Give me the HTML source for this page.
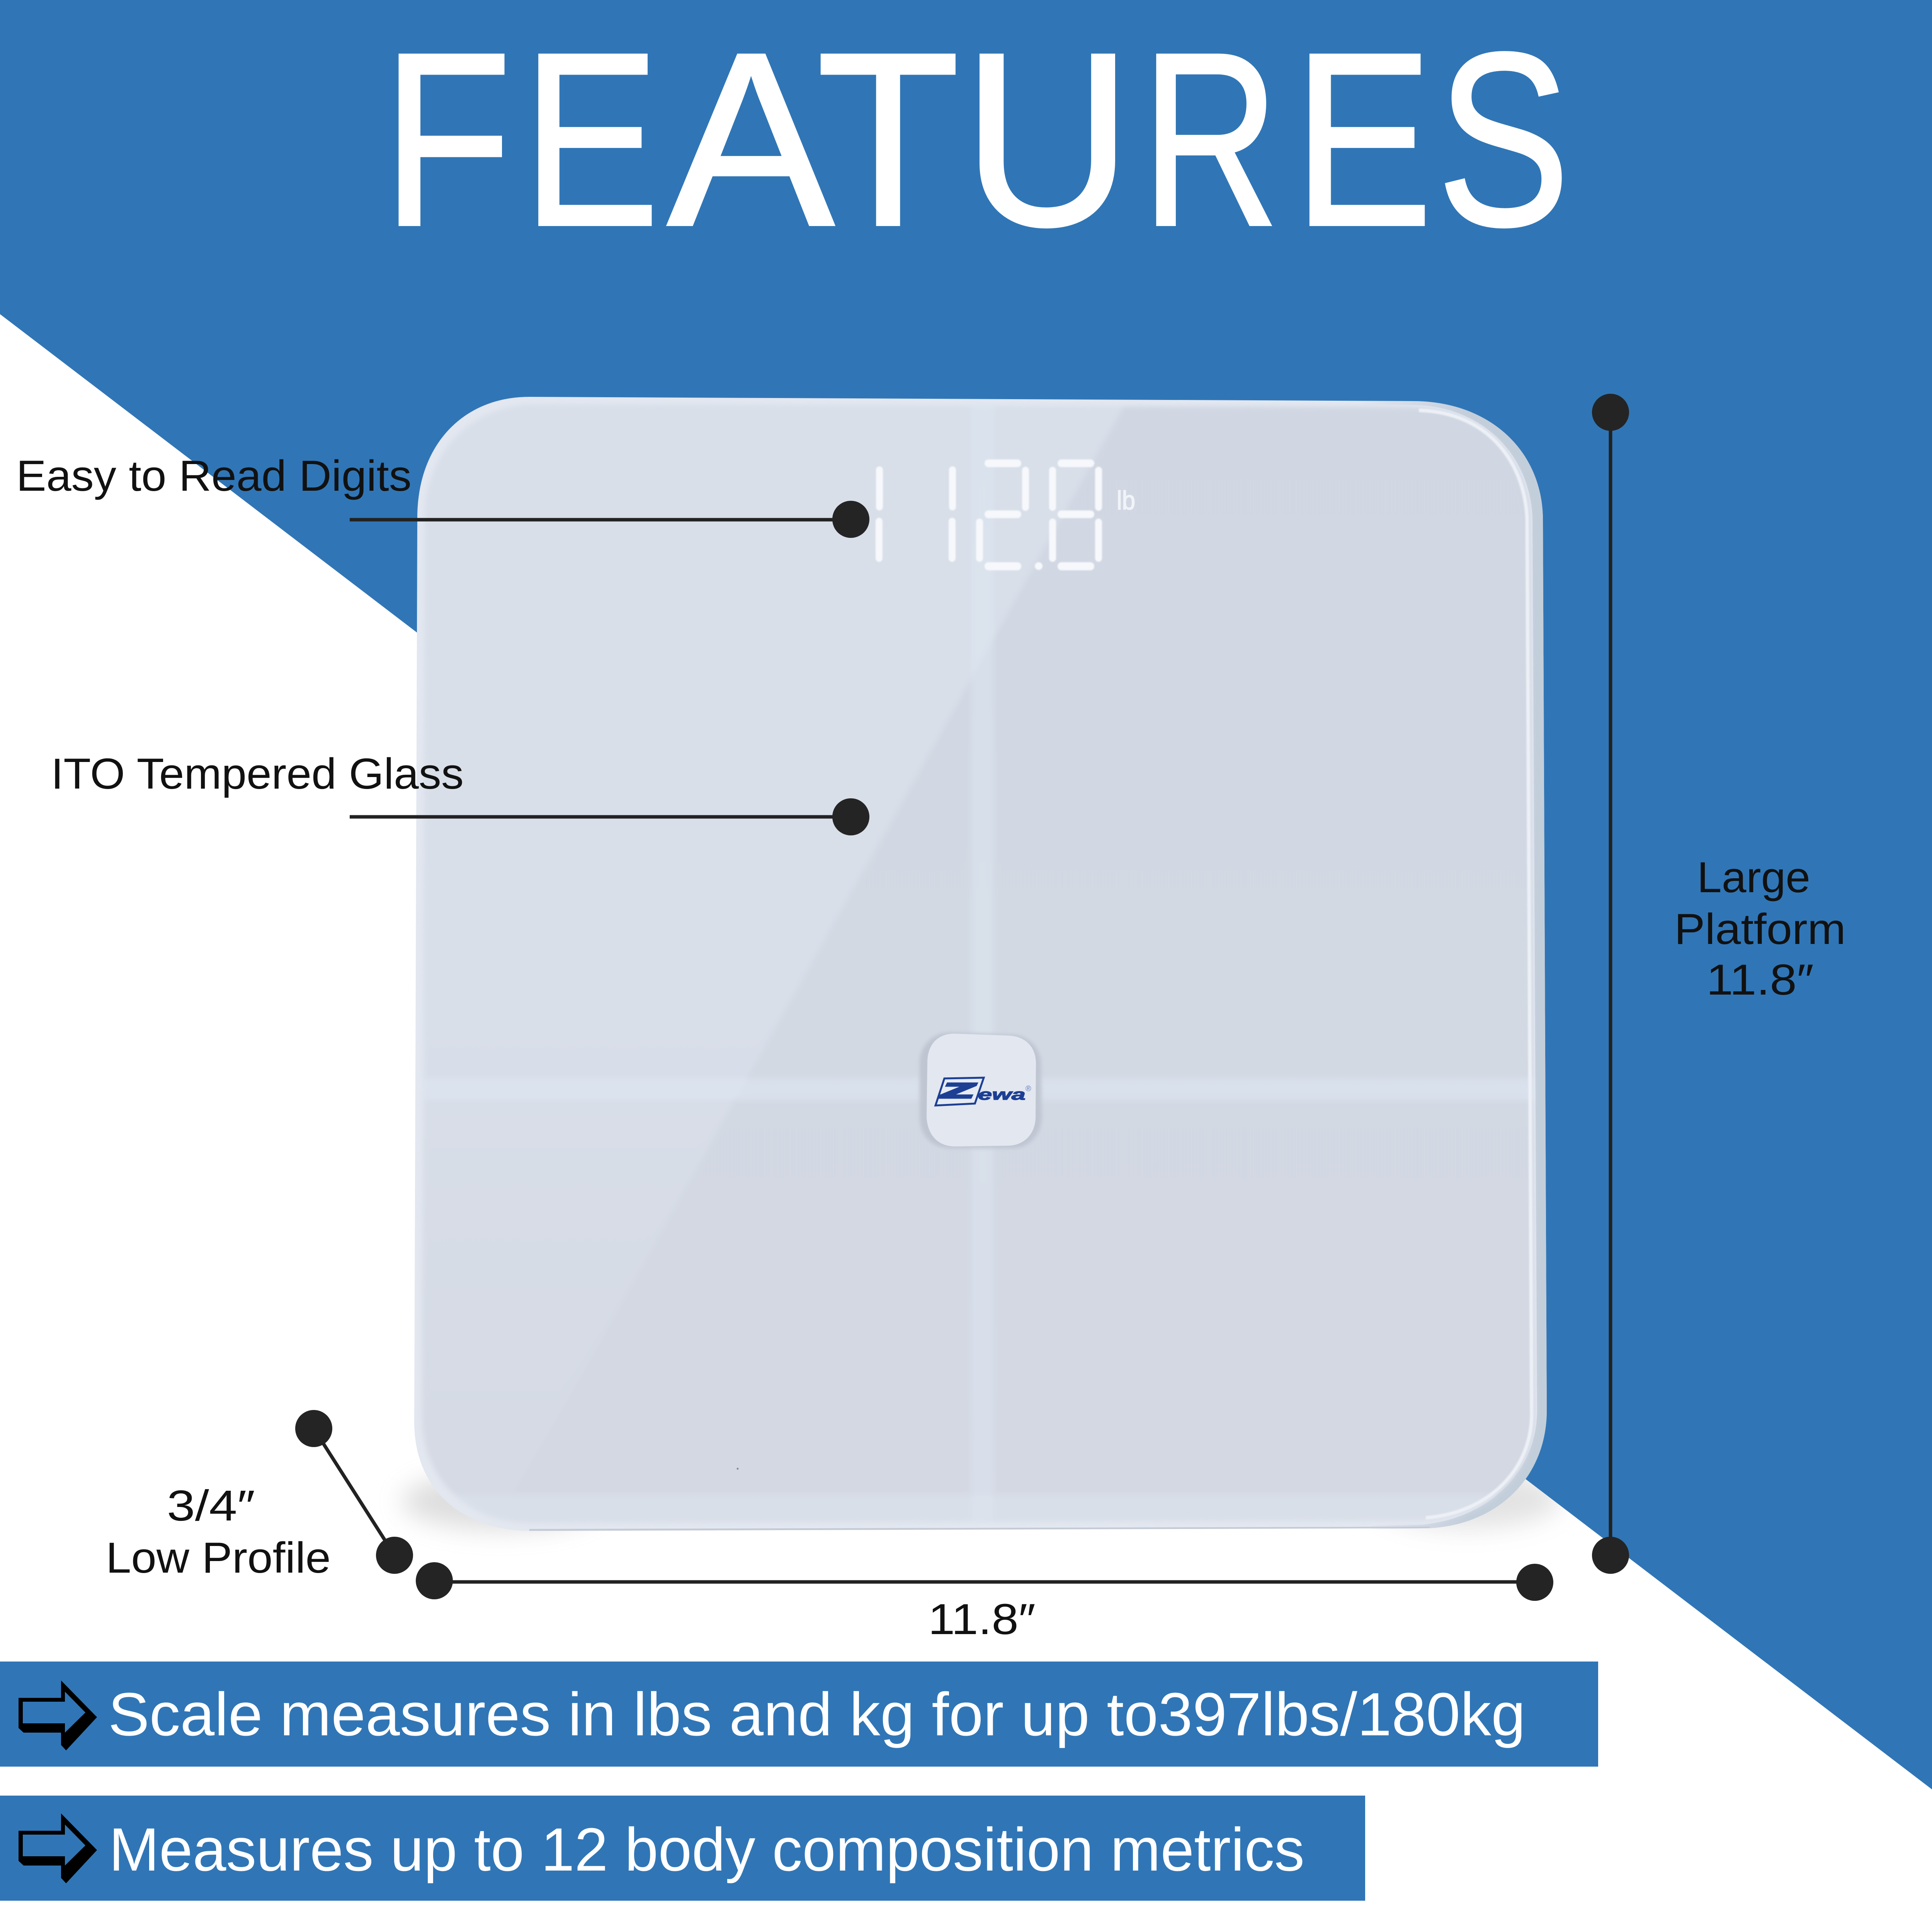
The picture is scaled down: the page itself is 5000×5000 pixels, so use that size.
<!DOCTYPE html>
<html lang="en"><head><meta charset="utf-8"><title>Features</title>
<style>html,body{margin:0;padding:0;background:#fff}svg{display:block}text{font-family:"Liberation Sans",sans-serif}</style>
</head><body>
<svg xmlns="http://www.w3.org/2000/svg" width="5000" height="5000" viewBox="0 0 5000 5000">
<defs>
<filter id="b60" x="-60%" y="-100%" width="220%" height="300%"><feGaussianBlur stdDeviation="32"/></filter>
<filter id="b6" x="-50%" y="-50%" width="200%" height="200%"><feGaussianBlur stdDeviation="5"/></filter>
<filter id="b2" x="-50%" y="-50%" width="200%" height="200%"><feGaussianBlur stdDeviation="1.5"/></filter>
<filter id="f8" x="1000" y="950" width="3100" height="3100" filterUnits="userSpaceOnUse"><feGaussianBlur stdDeviation="7"/></filter>
<linearGradient id="faceR" x1="0" y1="0" x2="0" y2="1"><stop offset="0" stop-color="#d0d7e2"/><stop offset=".5" stop-color="#d2d9e3"/><stop offset="1" stop-color="#d4d8e2"/></linearGradient>
<linearGradient id="faceL" x1="0" y1="0" x2="0" y2="1"><stop offset="0" stop-color="#d8dfe9"/><stop offset=".55" stop-color="#d9dfe9"/><stop offset=".8" stop-color="#d6dbe5"/><stop offset="1" stop-color="#d4d9e3"/></linearGradient>
<linearGradient id="rimR" gradientUnits="userSpaceOnUse" x1="3520" y1="0" x2="3800" y2="0"><stop offset="0" stop-color="#c3cedb" stop-opacity="0"/><stop offset="1" stop-color="#c3cedb"/></linearGradient>
<clipPath id="faceClip"><path d="M1390,1047 L3650,1054 C3840,1056 3952,1180 3960,1340 L3972,3660 C3972,3810 3860,3925 3690,3935 L1380,3942 C1210,3942 1095,3830 1092,3670 L1100,1340 C1100,1170 1220,1047 1390,1047 Z"/></clipPath>
<clipPath id="whiteArea"><polygon points="0,813 5000,4631 5000,5000 0,5000"/></clipPath>
</defs>
<rect width="5000" height="5000" fill="#fff"/>
<polygon points="0,0 5000,0 5000,4631 0,813" fill="#3076b6"/>

<!-- shadow -->
<g clip-path="url(#whiteArea)">
  <ellipse cx="1300" cy="3885" rx="260" ry="75" fill="#a8a8a8" opacity=".38" filter="url(#b60)"/>
  <ellipse cx="3800" cy="3880" rx="240" ry="75" fill="#a8a8a8" opacity=".32" filter="url(#b60)"/>
</g>

<!-- scale body -->
<path d="M1370,1027 L3660,1038 C3860,1040 3990,1170 3993,1340 L4003,3650 C4003,3820 3880,3945 3700,3955 L1370,3962 C1190,3960 1072,3850 1072,3680 L1080,1340 C1080,1150 1200,1027 1370,1027 Z" fill="#e2e7f0"/>
<path d="M3660,1038 C3860,1040 3990,1170 3993,1340 L4003,3650 C4003,3820 3880,3945 3700,3955 L3550,3958 L3550,3948 L3680,3946 C3850,3930 3978,3810 3978,3650 L3966,1340 C3960,1180 3840,1052 3660,1048 L3520,1046 L3520,1037 Z" fill="url(#rimR)"/>
<path d="M1370,3962 L3700,3955 L3700,3951 L1370,3957 Z" fill="#c4cbd4"/>
<g filter="url(#f8)">
  <g clip-path="url(#faceClip)">
    <rect x="1050" y="1000" width="3000" height="3000" fill="url(#faceR)"/>
    <polygon points="1050,1000 2938,1000 1260,3990 1050,3990" fill="url(#faceL)"/>
    <rect x="2514" y="1000" width="57" height="3000" fill="#dde6f1" opacity=".55"/>
    <rect x="1050" y="2790" width="3000" height="58" fill="#dde6f1" opacity=".6"/>
    <rect x="1050" y="3868" width="3000" height="100" fill="#dde5ee" opacity=".5"/>
  </g>
</g>
<path d="M3672,1062 C3842,1066 3944,1186 3952,1340 L3964,3660 C3964,3800 3856,3915 3690,3928" fill="none" stroke="#edf1f7" stroke-width="9" filter="url(#b2)"/>
<circle cx="1909" cy="3801" r="2.5" fill="#888"/>

<!-- LED digits -->
<g fill="#f6f8fb" filter="url(#b2)">
  <rect x="2267" y="1207" width="18" height="114" rx="9"/>
  <rect x="2266" y="1340" width="18" height="114" rx="9"/>
  <rect x="2456" y="1207" width="18" height="114" rx="9"/>
  <rect x="2455" y="1340" width="18" height="114" rx="9"/>
  <rect x="2548" y="1189" width="95" height="20" rx="10"/>
  <rect x="2645" y="1208" width="18" height="114" rx="9"/>
  <rect x="2548" y="1321" width="95" height="20" rx="10"/>
  <rect x="2526" y="1342" width="18" height="112" rx="9"/>
  <rect x="2548" y="1455" width="95" height="21" rx="10"/>
  <circle cx="2688" cy="1465" r="10"/>
  <rect x="2737" y="1189" width="95" height="20" rx="10"/>
  <rect x="2715" y="1208" width="18" height="114" rx="9"/>
  <rect x="2834" y="1208" width="18" height="114" rx="9"/>
  <rect x="2737" y="1321" width="95" height="20" rx="10"/>
  <rect x="2715" y="1342" width="18" height="112" rx="9"/>
  <rect x="2834" y="1342" width="18" height="112" rx="9"/>
  <rect x="2737" y="1455" width="95" height="21" rx="10"/>
</g>
<text x="2890" y="1318" font-size="68" fill="#f0f3f7" stroke="#f0f3f7" stroke-width="2" textLength="48" lengthAdjust="spacingAndGlyphs">lb</text>

<!-- button -->
<path d="M2460,2672 L2620,2678 C2660,2680 2692,2710 2694,2750 L2696,2890 C2696,2940 2660,2972 2620,2972 L2460,2972 C2410,2970 2380,2940 2380,2890 L2380,2750 C2380,2705 2415,2672 2460,2672 Z" fill="#bfc6d2" filter="url(#b6)"/>
<path d="M2470,2675 L2610,2680 C2655,2682 2680,2710 2681,2750 L2680,2890 C2680,2935 2650,2964 2610,2965 L2470,2967 C2425,2966 2400,2935 2398,2890 L2400,2750 C2400,2705 2425,2675 2470,2675 Z" fill="#e3e7f0"/>
<polygon points="2444,2791 2546,2789 2523,2856 2421,2861" fill="#e6ebf3" stroke="#1c3f94" stroke-width="5"/>
<text x="2436" y="2841" font-size="54" font-weight="700" font-style="italic" fill="#1c3f94" stroke="#1c3f94" stroke-width="5" textLength="84" lengthAdjust="spacingAndGlyphs">Z</text>
<text x="2531" y="2846" font-size="40" font-weight="700" font-style="italic" fill="#1c3f94" stroke="#1c3f94" stroke-width="1.5" textLength="123" lengthAdjust="spacingAndGlyphs">ewa</text>
<text x="2654" y="2824" font-size="20" fill="#5f7fc0">®</text>

<!-- connectors -->
<g stroke="#222" stroke-width="9" fill="none">
  <line x1="905" y1="1345" x2="2202" y2="1345"/>
  <line x1="905" y1="2114" x2="2202" y2="2114"/>
  <line x1="4168" y1="1067" x2="4168" y2="4025"/>
  <line x1="1124" y1="4094" x2="3972" y2="4094"/>
  <line x1="812" y1="3697" x2="1021" y2="4025"/>
</g>
<g fill="#242424">
  <circle cx="2202" cy="1344" r="48"/>
  <circle cx="2202" cy="2114" r="48"/>
  <circle cx="4168" cy="1067" r="48"/>
  <circle cx="4168" cy="4025" r="48"/>
  <circle cx="812" cy="3697" r="48"/>
  <circle cx="1021" cy="4025" r="48"/>
  <circle cx="1124" cy="4091" r="48"/>
  <circle cx="3972" cy="4095" r="48"/>
</g>

<!-- title -->
<g fill="#fff" stroke="#fff" stroke-width="6" font-size="640">
  <text x="989" y="582" textLength="336" lengthAdjust="spacingAndGlyphs">F</text>
  <text x="1352" y="582" textLength="355" lengthAdjust="spacingAndGlyphs">E</text>
  <text x="1727" y="582" textLength="432" lengthAdjust="spacingAndGlyphs">A</text>
  <text x="2113" y="582" textLength="371" lengthAdjust="spacingAndGlyphs">T</text>
  <text x="2491" y="582" textLength="439" lengthAdjust="spacingAndGlyphs">U</text>
  <text x="2954" y="582" textLength="357" lengthAdjust="spacingAndGlyphs">R</text>
  <text x="3347" y="582" textLength="361" lengthAdjust="spacingAndGlyphs">E</text>
  <text x="3719" y="582" textLength="344" lengthAdjust="spacingAndGlyphs">S</text>
</g>

<!-- labels -->
<g fill="#111" font-size="112">
  <text x="42" y="1270" textLength="1023" lengthAdjust="spacingAndGlyphs">Easy to Read Digits</text>
  <text x="132" y="2041" textLength="1068" lengthAdjust="spacingAndGlyphs">ITO Tempered Glass</text>
  <text x="4392" y="2309" textLength="293" lengthAdjust="spacingAndGlyphs">Large</text>
  <text x="4333" y="2443" textLength="444" lengthAdjust="spacingAndGlyphs">Platform</text>
  <text x="4416" y="2574" textLength="278" lengthAdjust="spacingAndGlyphs">11.8″</text>
  <text x="432" y="3935" textLength="228" lengthAdjust="spacingAndGlyphs">3/4″</text>
  <text x="274" y="4070" textLength="582" lengthAdjust="spacingAndGlyphs">Low Profile</text>
  <text x="2402" y="4229" textLength="278" lengthAdjust="spacingAndGlyphs">11.8″</text>
</g>

<!-- banners -->
<rect x="0" y="4300" width="4136" height="272" fill="#3076b6"/>
<rect x="0" y="4647" width="3533" height="272" fill="#3076b6"/>
<g fill="#000" fill-rule="evenodd">
  <path d="M48,4394 L158,4394 L158,4349 L251,4444 L171,4530 L158,4516 L158,4484 L61,4484 L48,4472 Z M59,4404 L59,4460 L168,4460 L168,4484 L221,4432 L168,4378 L168,4404 Z"/>
  <path d="M48,4738 L158,4738 L158,4693 L251,4788 L171,4874 L158,4860 L158,4828 L61,4828 L48,4816 Z M59,4748 L59,4804 L168,4804 L168,4828 L221,4776 L168,4722 L168,4748 Z"/>
</g>
<g fill="#fff" font-size="158">
  <text x="280" y="4491" textLength="3668" lengthAdjust="spacingAndGlyphs">Scale measures in lbs and kg for up to397lbs/180kg</text>
  <text x="282" y="4841" textLength="3094" lengthAdjust="spacingAndGlyphs">Measures up to 12 body composition metrics</text>
</g>
</svg>
</body></html>
